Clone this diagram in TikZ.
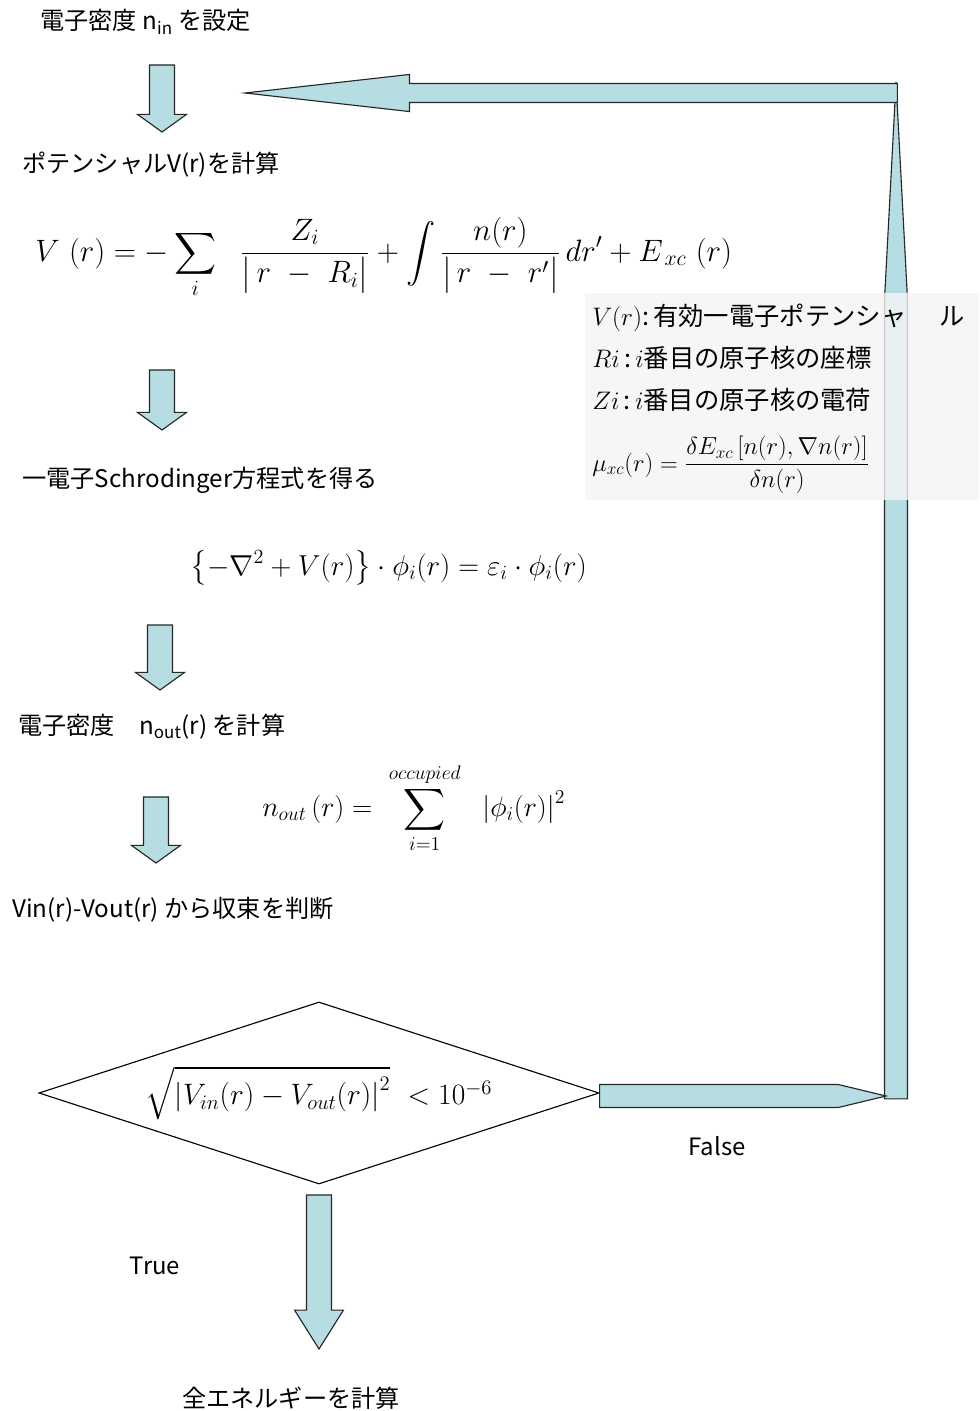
\RequirePackage{fix-cm}
\documentclass[tikz,border=0pt]{standalone}
\usepackage{amsmath}
\usepackage{fontspec}
\newfontfamily\jp{Noto Sans CJK JP}
\usetikzlibrary{shapes.geometric, calc}
\definecolor{loopcyan}{RGB}{182,221,226}
\definecolor{legendgray}{RGB}{244,244,244}

% block arrow pointing down, from coordinate #2 to coordinate #3
\newcommand{\blockdown}[3][12.5pt]{%
  \filldraw[blk] let \p1=(#2), \p2=(#3) in
    (\x1-8.9pt,\y1) -- (\x1+8.9pt,\y1) -- (\x1+8.9pt,\y2+#1) -- (\x1+17.4pt,\y2+#1)
    -- (\x1,\y2) -- (\x1-17.4pt,\y2+#1) -- (\x1-8.9pt,\y2+#1) -- cycle;}

\begin{document}
\begin{tikzpicture}[x=0.025cm, y=-0.025cm,
  lbl/.style={font=\jp\fontsize{17.2}{20}\selectfont, anchor=west, inner sep=0pt},
  eqn/.style={anchor=west, inner sep=0pt},
  lgd/.style={font=\jp\fontsize{18}{21}\selectfont, anchor=west, inner sep=0pt},
  blk/.style={draw=black!85, fill=loopcyan, line width=0.8pt, line join=miter},
  judge/.style={draw, diamond, line width=0.8pt, inner sep=0pt, aspect=3.08,
    minimum width=14cm, minimum height=4.55cm}
]
  \useasboundingbox (0,0) rectangle (979,1411);

  % --- steps ---
  \node[lbl] (setnin) at (40,22) {電子密度 n\textsubscript{in} を設定};
  \node[lbl] (calcV) at (22,165) {ポテンシャルV(r)を計算};
  \node[eqn, font=\fontsize{22}{26}\selectfont] (veq) at (35,258)
    {$\displaystyle V\ (r) = -\sum_i\ \ \frac{Z_i}{\left|\,r\ -\ R_i\vphantom{R^2_i}\right|} + \int\frac{n(r)}{\left|\,r\ -\ r'\vphantom{R^2_i}\right|}\,dr' + E_{\,xc}\ (r)$};
  \node[lbl] (schr) at (22,480) {一電子Schrodinger方程式を得る};
  \node[eqn, font=\fontsize{20.5}{24}\selectfont] (seq) at (190,568)
    {$\displaystyle \left\{-\nabla^2 + V(r)\right\}\cdot\phi_i(r) = \varepsilon_i\cdot\phi_i(r)$};
  \node[lbl] (calcn) at (18,727) {電子密度　n\textsubscript{out}(r) を計算};
  \node[eqn, font=\fontsize{20}{24}\selectfont] (neq) at (262,808)
    {$\displaystyle n_{out}\,(r) = \ \sum_{i=1}^{occupied}\ \ \left|\phi_i(r)\right|^2$};
  \node[lbl] (conv) at (12,910) {Vin(r)-Vout(r) から収束を判断};

  % --- judgement ---
  \node[judge, font=\fontsize{21}{25}\selectfont] (diam) at (319,1093)
    {$\sqrt{\left|V_{in}(r) - V_{out}(r)\right|^2}\ < 10^{-6}$};
  \node[font=\jp\fontsize{17}{20}\selectfont] (false) at (717,1146) {False};
  \node[font=\jp\fontsize{17}{20}\selectfont] (true) at (155,1266) {True};
  \node[font=\jp\fontsize{17.2}{20}\selectfont] (energy) at (291,1398) {全エネルギーを計算};

  % --- down arrows ---
  \coordinate (a1s) at (162,65);  \coordinate (a1e) at (162,132);
  \coordinate (a2s) at (162,370); \coordinate (a2e) at (162,430);
  \coordinate (a3s) at (160,625); \coordinate (a3e) at (160,690);
  \coordinate (a4s) at (156,797); \coordinate (a4e) at (156,863);
  \coordinate (a5s) at (319,1195); \coordinate (a5e) at (319,1349);
  \blockdown{a1s}{a1e}
  \blockdown{a2s}{a2e}
  \blockdown{a3s}{a3e}
  \blockdown{a4s}{a4e}
  \blockdown[27.7pt]{a5s}{a5e}

  % --- loop back (False) ---
  \coordinate (cbot) at (886,1096);
  \coordinate (ctop) at (896,82);
  \coordinate (ret) at (245,93);
  \filldraw[blk] let \p1=(cbot), \p2=(ctop) in
    (\x2-8.2pt,\y1-2pt) -- (\x2+8.2pt,\y1-2pt) -- (\x2+8.2pt,\y2-155pt) -- (\x2,\y2)
    -- (\x2-8.2pt,\y2-155pt) -- cycle;
  \filldraw[blk] let \p1=(diam.east), \p2=(cbot) in
    (\x1,\y2+8.2pt) -- (\x2-34pt,\y2+8.2pt) -- (\x2,\y2) -- (\x2-34pt,\y2-8.2pt)
    -- (\x1,\y2-8.2pt) -- cycle;
  \filldraw[blk] let \p1=(ctop), \p2=(ret) in
    (\x1+1pt,\y2+6.75pt) -- (\x2+117pt,\y2+6.75pt) -- (\x2+117pt,\y2+13.2pt) -- (\x2,\y2)
    -- (\x2+117pt,\y2-13.2pt) -- (\x2+117pt,\y2-6.75pt) -- (\x1+1pt,\y2-6.75pt) -- cycle;

  % --- legend ---
  \fill[legendgray, opacity=0.8] (585,293) rectangle (979,500);
  \node[lgd] (lv) at (592,318) {$V(r)$:\,有効一電子ポテンシャ\hspace{1.3em}ル};
  \node[lgd] (lr) at (592,358) {$Ri$\,:$\,i$番目の原子核の座標};
  \node[lgd] (lz) at (592,400) {$Zi$\,:$\,i$番目の原子核の電荷};
  \node[eqn, font=\fontsize{17.5}{21}\selectfont] (lmu) at (592,465)
    {$\mu_{xc}(r) = \dfrac{\delta E_{xc}\left[n(r),\nabla n(r)\right]}{\delta n(r)}$};
\end{tikzpicture}
\end{document}
